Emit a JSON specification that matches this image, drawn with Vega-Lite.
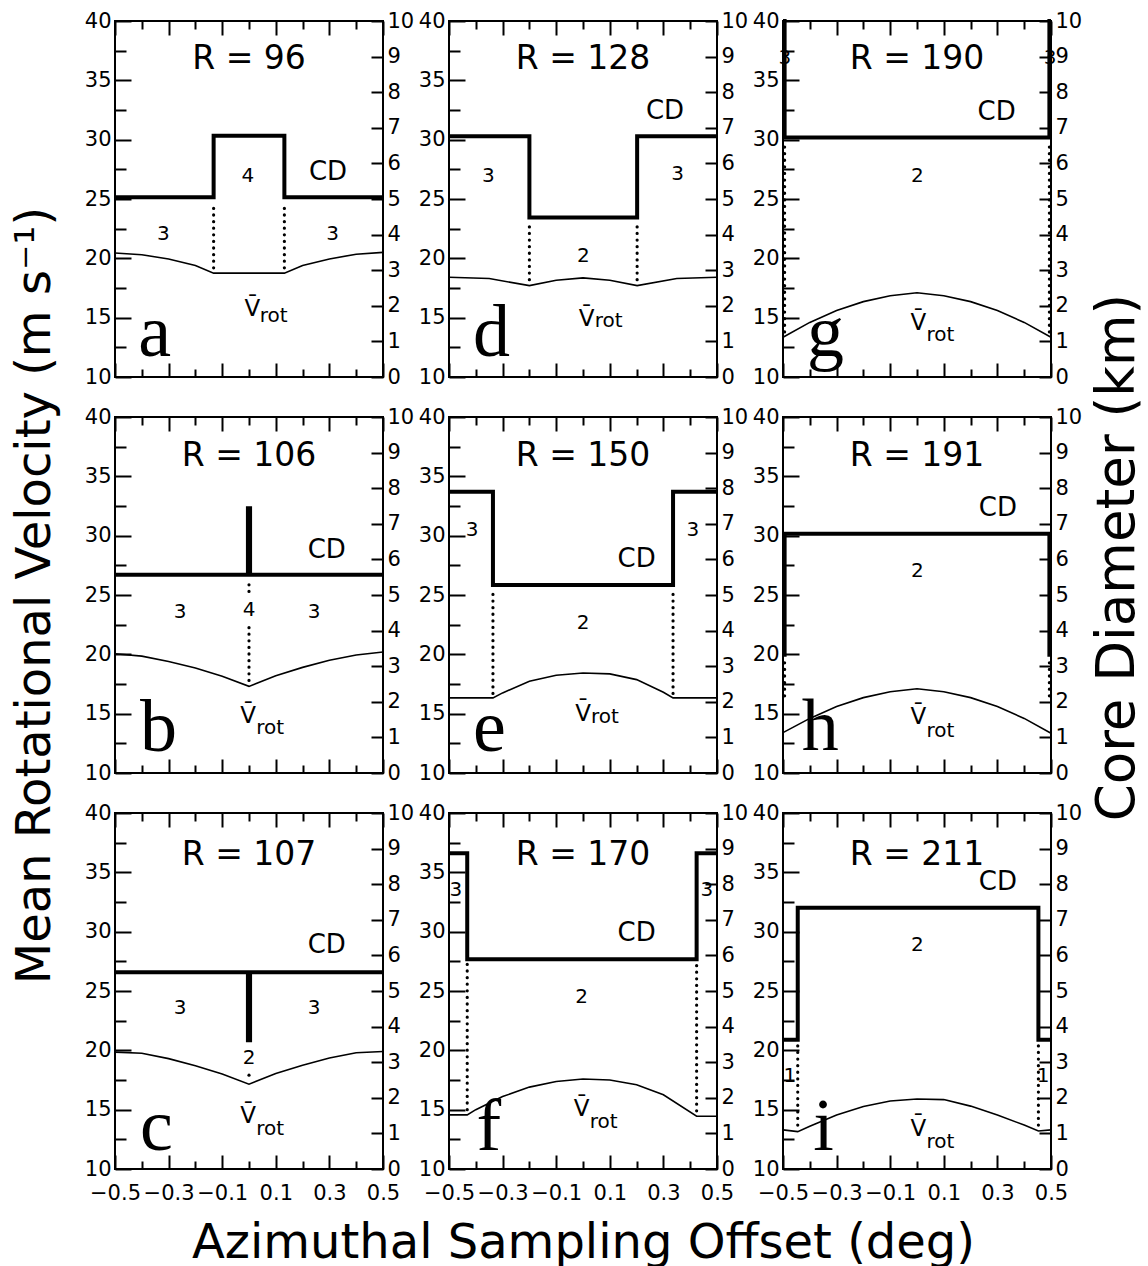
{
"$schema":"https://vega.github.io/schema/vega-lite/v6.json",
"background":"white",
"padding":{"left":10,"top":9,"right":5,"bottom":5},
"bounds":"flush","columns":3,"spacing":{"row":40,"column":66},
"config":{"view":{"stroke":"black","strokeWidth":2},
"axis":{"grid":false,"domain":false,"tickColor":"black","tickWidth":2,"labelColor":"black","labelFont":"DejaVu Sans","labelFontSize":21,"titleColor":"black","titleFont":"DejaVu Sans","titleFontWeight":"normal","titleFontSize":48},
"text":{"color":"black","font":"DejaVu Sans"}},
"datasets":{
"cd":[
{"p":"a","x":-0.5,"cd":5.05},{"p":"a","x":-0.132,"cd":6.78},{"p":"a","x":0.132,"cd":5.05},{"p":"a","x":0.5,"cd":5.05},
{"p":"b","x":-0.5,"cd":5.57},{"p":"b","x":-0.004,"cd":7.44},{"p":"b","x":0.004,"cd":5.57},{"p":"b","x":0.5,"cd":5.57},
{"p":"c","x":-0.5,"cd":5.53},{"p":"c","x":-0.004,"cd":3.62},{"p":"c","x":0.004,"cd":5.53},{"p":"c","x":0.5,"cd":5.53},
{"p":"d","x":-0.5,"cd":6.76},{"p":"d","x":-0.2,"cd":4.48},{"p":"d","x":0.202,"cd":6.76},{"p":"d","x":0.5,"cd":6.76},
{"p":"e","x":-0.5,"cd":7.9},{"p":"e","x":-0.336,"cd":5.28},{"p":"e","x":0.336,"cd":7.9},{"p":"e","x":0.5,"cd":7.9},
{"p":"f","x":-0.5,"cd":8.87},{"p":"f","x":-0.432,"cd":5.89},{"p":"f","x":0.424,"cd":8.87},{"p":"f","x":0.5,"cd":8.87},
{"p":"g","x":-0.5,"cd":10},{"p":"g","x":-0.494,"cd":6.73},{"p":"g","x":0.494,"cd":10},{"p":"g","x":0.5,"cd":10},
{"p":"h","x":-0.5,"cd":3.32},{"p":"h","x":-0.494,"cd":6.72},{"p":"h","x":0.494,"cd":3.32},{"p":"h","x":0.5,"cd":3.32},
{"p":"i","x":-0.5,"cd":3.63},{"p":"i","x":-0.445,"cd":7.34},{"p":"i","x":0.453,"cd":3.63},{"p":"i","x":0.5,"cd":3.63}
],
"vr":[
{"p":"a","x":-0.5,"v":20.45},{"p":"a","x":-0.4,"v":20.3},{"p":"a","x":-0.3,"v":19.95},{"p":"a","x":-0.2,"v":19.4},{"p":"a","x":-0.132,"v":18.75},{"p":"a","x":0.132,"v":18.75},{"p":"a","x":0.2,"v":19.4},{"p":"a","x":0.3,"v":19.95},{"p":"a","x":0.4,"v":20.35},{"p":"a","x":0.5,"v":20.5},
{"p":"b","x":-0.5,"v":20.05},{"p":"b","x":-0.4,"v":19.85},{"p":"b","x":-0.3,"v":19.4},{"p":"b","x":-0.2,"v":18.85},{"p":"b","x":-0.1,"v":18.15},{"p":"b","x":0,"v":17.3},{"p":"b","x":0.1,"v":18.2},{"p":"b","x":0.2,"v":18.9},{"p":"b","x":0.3,"v":19.5},{"p":"b","x":0.4,"v":19.95},{"p":"b","x":0.5,"v":20.2},
{"p":"c","x":-0.5,"v":19.85},{"p":"c","x":-0.4,"v":19.75},{"p":"c","x":-0.3,"v":19.3},{"p":"c","x":-0.2,"v":18.7},{"p":"c","x":-0.1,"v":18.0},{"p":"c","x":0,"v":17.15},{"p":"c","x":0.1,"v":18.05},{"p":"c","x":0.2,"v":18.75},{"p":"c","x":0.3,"v":19.35},{"p":"c","x":0.4,"v":19.8},{"p":"c","x":0.5,"v":19.9},
{"p":"d","x":-0.5,"v":18.4},{"p":"d","x":-0.35,"v":18.3},{"p":"d","x":-0.2,"v":17.7},{"p":"d","x":-0.1,"v":18.15},{"p":"d","x":0,"v":18.35},{"p":"d","x":0.1,"v":18.15},{"p":"d","x":0.202,"v":17.7},{"p":"d","x":0.35,"v":18.3},{"p":"d","x":0.5,"v":18.4},
{"p":"e","x":-0.5,"v":16.33},{"p":"e","x":-0.336,"v":16.33},{"p":"e","x":-0.3,"v":16.75},{"p":"e","x":-0.2,"v":17.73},{"p":"e","x":-0.1,"v":18.24},{"p":"e","x":0,"v":18.43},{"p":"e","x":0.1,"v":18.35},{"p":"e","x":0.2,"v":17.87},{"p":"e","x":0.3,"v":16.8},{"p":"e","x":0.336,"v":16.33},{"p":"e","x":0.5,"v":16.33},
{"p":"f","x":-0.5,"v":14.56},{"p":"f","x":-0.432,"v":14.56},{"p":"f","x":-0.4,"v":15.0},{"p":"f","x":-0.3,"v":16.1},{"p":"f","x":-0.2,"v":16.9},{"p":"f","x":-0.1,"v":17.37},{"p":"f","x":0,"v":17.58},{"p":"f","x":0.1,"v":17.5},{"p":"f","x":0.2,"v":17.1},{"p":"f","x":0.3,"v":16.25},{"p":"f","x":0.424,"v":14.45},{"p":"f","x":0.5,"v":14.45},
{"p":"g","x":-0.5,"v":13.35},{"p":"g","x":-0.4,"v":14.6},{"p":"g","x":-0.3,"v":15.6},{"p":"g","x":-0.2,"v":16.35},{"p":"g","x":-0.1,"v":16.85},{"p":"g","x":0,"v":17.1},{"p":"g","x":0.1,"v":16.85},{"p":"g","x":0.2,"v":16.35},{"p":"g","x":0.3,"v":15.6},{"p":"g","x":0.4,"v":14.6},{"p":"g","x":0.5,"v":13.35},
{"p":"h","x":-0.5,"v":13.4},{"p":"h","x":-0.4,"v":14.6},{"p":"h","x":-0.3,"v":15.6},{"p":"h","x":-0.2,"v":16.35},{"p":"h","x":-0.1,"v":16.85},{"p":"h","x":0,"v":17.1},{"p":"h","x":0.1,"v":16.85},{"p":"h","x":0.2,"v":16.35},{"p":"h","x":0.3,"v":15.6},{"p":"h","x":0.4,"v":14.6},{"p":"h","x":0.5,"v":13.35},
{"p":"i","x":-0.5,"v":13.3},{"p":"i","x":-0.445,"v":13.15},{"p":"i","x":-0.4,"v":13.6},{"p":"i","x":-0.3,"v":14.55},{"p":"i","x":-0.2,"v":15.27},{"p":"i","x":-0.1,"v":15.73},{"p":"i","x":0,"v":15.9},{"p":"i","x":0.1,"v":15.85},{"p":"i","x":0.2,"v":15.3},{"p":"i","x":0.3,"v":14.55},{"p":"i","x":0.4,"v":13.7},{"p":"i","x":0.453,"v":13.2},{"p":"i","x":0.5,"v":13.3}
],
"dot":[
{"p":"a","x":-0.132,"v1":19.2,"v2":24.6},{"p":"a","x":0.132,"v1":19.2,"v2":24.6},
{"p":"b","x":0,"v1":17.8,"v2":22.4},{"p":"b","x":0,"v1":25.3,"v2":26.3},
{"p":"c","x":0,"v1":17.9,"v2":17.95},
{"p":"d","x":-0.2,"v1":18.2,"v2":22.9},{"p":"d","x":0.202,"v1":18.2,"v2":22.9},
{"p":"e","x":-0.336,"v1":16.7,"v2":25.5},{"p":"e","x":0.336,"v1":16.7,"v2":25.5},
{"p":"f","x":-0.432,"v1":15.0,"v2":27.3},{"p":"f","x":0.424,"v1":14.9,"v2":27.3},
{"p":"g","x":-0.494,"v1":13.8,"v2":29.7},{"p":"g","x":0.494,"v1":13.8,"v2":29.7},
{"p":"h","x":-0.494,"v1":16.5,"v2":19.7},{"p":"h","x":0.494,"v1":16.5,"v2":19.7},
{"p":"i","x":-0.445,"v1":13.7,"v2":20.6},{"p":"i","x":0.453,"v1":13.7,"v2":20.6}
],
"txt":[
{"p":"a","k":"R","x":0,"v":36.8,"t":"R = 96"},{"p":"a","k":"CD","x":0.295,"v":27.3,"t":"CD"},{"p":"a","k":"n","x":-0.004,"v":26.96,"t":"4"},{"p":"a","k":"n","x":-0.32,"v":22.05,"t":"3"},{"p":"a","k":"n","x":0.312,"v":22.05,"t":"3"},{"p":"a","k":"V","x":0.013,"v":15.75,"t":"V\u0304"},{"p":"a","k":"rot","x":0.04,"v":15.16,"t":"rot"},{"p":"a","k":"L","x":-0.413,"v":11.8,"t":"a"},
{"p":"b","k":"R","x":0,"v":36.7,"t":"R = 106"},{"p":"b","k":"CD","x":0.29,"v":28.8,"t":"CD"},{"p":"b","k":"n","x":0,"v":23.77,"t":"4"},{"p":"b","k":"n","x":-0.257,"v":23.6,"t":"3"},{"p":"b","k":"n","x":0.243,"v":23.6,"t":"3"},{"p":"b","k":"V","x":-0.003,"v":14.8,"t":"V\u0304"},{"p":"b","k":"rot","x":0.027,"v":13.8,"t":"rot"},{"p":"b","k":"L","x":-0.407,"v":11.85,"t":"b"},
{"p":"c","k":"R","x":0,"v":36.46,"t":"R = 107"},{"p":"c","k":"CD","x":0.29,"v":28.9,"t":"CD"},{"p":"c","k":"n","x":0,"v":19.33,"t":"2"},{"p":"c","k":"n","x":-0.257,"v":23.55,"t":"3"},{"p":"c","k":"n","x":0.243,"v":23.55,"t":"3"},{"p":"c","k":"V","x":-0.003,"v":14.45,"t":"V\u0304"},{"p":"c","k":"rot","x":0.027,"v":13.37,"t":"rot"},{"p":"c","k":"L","x":-0.407,"v":11.6,"t":"c"},
{"p":"d","k":"R","x":0,"v":36.8,"t":"R = 128"},{"p":"d","k":"CD","x":0.306,"v":32.4,"t":"CD"},{"p":"d","k":"n","x":-0.353,"v":26.96,"t":"3"},{"p":"d","k":"n","x":0.353,"v":27.1,"t":"3"},{"p":"d","k":"n","x":0.001,"v":20.2,"t":"2"},{"p":"d","k":"V","x":0.0135,"v":14.9,"t":"V\u0304"},{"p":"d","k":"rot","x":0.044,"v":14.74,"t":"rot"},{"p":"d","k":"L","x":-0.41,"v":11.8,"t":"d"},
{"p":"e","k":"R","x":0,"v":36.7,"t":"R = 150"},{"p":"e","k":"CD","x":0.2,"v":28.0,"t":"CD"},{"p":"e","k":"n","x":-0.414,"v":30.5,"t":"3"},{"p":"e","k":"n","x":0.41,"v":30.5,"t":"3"},{"p":"e","k":"n","x":0,"v":22.6,"t":"2"},{"p":"e","k":"V","x":0,"v":15.0,"t":"V\u0304"},{"p":"e","k":"rot","x":0.03,"v":14.72,"t":"rot"},{"p":"e","k":"L","x":-0.41,"v":11.83,"t":"e"},
{"p":"f","k":"R","x":0,"v":36.46,"t":"R = 170"},{"p":"f","k":"CD","x":0.2,"v":29.87,"t":"CD"},{"p":"f","k":"n","x":-0.474,"v":33.5,"t":"3"},{"p":"f","k":"n","x":0.462,"v":33.5,"t":"3"},{"p":"f","k":"n","x":-0.005,"v":24.52,"t":"2"},{"p":"f","k":"V","x":-0.005,"v":15.05,"t":"V\u0304"},{"p":"f","k":"rot","x":0.025,"v":14.0,"t":"rot"},{"p":"f","k":"L","x":-0.397,"v":11.6,"t":"f"},
{"p":"g","k":"R","x":0,"v":36.8,"t":"R = 190"},{"p":"g","k":"CD","x":0.297,"v":32.3,"t":"CD"},{"p":"g","k":"n","x":-0.493,"v":36.9,"t":"3"},{"p":"g","k":"n","x":0.497,"v":36.9,"t":"3"},{"p":"g","k":"n","x":0.001,"v":26.96,"t":"2"},{"p":"g","k":"V","x":0.005,"v":14.55,"t":"V\u0304"},{"p":"g","k":"rot","x":0.035,"v":13.56,"t":"rot"},{"p":"g","k":"L","x":-0.41,"v":11.8,"t":"g"},
{"p":"h","k":"R","x":0,"v":36.7,"t":"R = 191"},{"p":"h","k":"CD","x":0.302,"v":32.33,"t":"CD"},{"p":"h","k":"n","x":0.001,"v":27.0,"t":"2"},{"p":"h","k":"V","x":0.005,"v":14.7,"t":"V\u0304"},{"p":"h","k":"rot","x":0.035,"v":13.5,"t":"rot"},{"p":"h","k":"L","x":-0.43,"v":11.96,"t":"h"},
{"p":"i","k":"R","x":0,"v":36.46,"t":"R = 211"},{"p":"i","k":"CD","x":0.302,"v":34.2,"t":"CD"},{"p":"i","k":"n","x":0.001,"v":28.88,"t":"2"},{"p":"i","k":"n","x":-0.474,"v":17.8,"t":"1"},{"p":"i","k":"n","x":0.471,"v":17.8,"t":"1"},{"p":"i","k":"V","x":0.005,"v":13.4,"t":"V\u0304"},{"p":"i","k":"rot","x":0.035,"v":12.3,"t":"rot"},{"p":"i","k":"L","x":-0.387,"v":11.6,"t":"i"}
]
},
"concat":[
{"width":268,"height":356,"resolve":{"scale":{"x":"independent","y":"independent"},"axis":{"x":"independent","y":"independent"}},"layer":[
{"data":{"name":"cd"},"transform":[{"filter":"datum.p=='a'"}],"mark":{"type":"line","interpolate":"step-after","strokeWidth":4,"color":"black"},"encoding":{"x":{"field":"x","type":"quantitative","scale":{"domain":[-0.5,0.5],"nice":false},"axis":{"orient":"bottom","values":[-0.5,-0.3,-0.1,0.1,0.3,0.5],"tickSize":-14,"labels":false,"title":null}},"y":{"field":"cd","type":"quantitative","scale":{"domain":[0,10],"nice":false},"axis":{"orient":"right","values":[0,1,2,3,4,5,6,7,8,9,10],"tickSize":-12,"labelPadding":16,"labelOverlap":false,"labelFlush":false,"title":null}}}},
{"data":{"name":"vr"},"transform":[{"filter":"datum.p=='a'"}],"mark":{"type":"line","strokeWidth":1.6,"color":"black"},"encoding":{"x":{"field":"x","type":"quantitative","scale":{"domain":[-0.5,0.5],"nice":false},"axis":{"orient":"top","values":[-0.5,-0.3,-0.1,0.1,0.3,0.5],"tickSize":-14,"labels":false,"title":null}},"y":{"field":"v","type":"quantitative","scale":{"domain":[10,40],"nice":false},"axis":{"orient":"left","values":[10,15,20,25,30,35,40],"tickSize":-16,"labelPadding":20,"labelOverlap":false,"labelFlush":false,"title":null}}}},
{"data":{"name":"dot"},"transform":[{"filter":"datum.p=='a'"}],"mark":{"type":"rule","strokeWidth":3.2,"strokeDash":[0.1,6.5],"strokeCap":"round","color":"black"},"encoding":{"x":{"field":"x","type":"quantitative","scale":{"domain":[-0.5,0.5],"nice":false},"axis":{"orient":"bottom","values":[-0.4,-0.2,0,0.2,0.4],"tickSize":-8,"labels":false,"title":null}},"y":{"field":"v1","type":"quantitative","scale":{"domain":[10,40],"nice":false},"axis":{"orient":"left","values":[12.5,17.5,22.5,27.5,32.5,37.5],"tickSize":-11,"labels":false,"title":null}},"y2":{"field":"v2"}}},
{"data":{"name":"txt"},"transform":[{"filter":"datum.p=='a'&&datum.k=='R'"}],"mark":{"type":"text","fontSize":33},"encoding":{"x":{"field":"x","type":"quantitative","scale":{"domain":[-0.5,0.5],"nice":false},"axis":{"orient":"top","values":[-0.4,-0.2,0,0.2,0.4],"tickSize":-8,"labels":false,"title":null}},"y":{"field":"v","type":"quantitative","scale":{"domain":[10,40],"nice":false},"axis":null},"text":{"field":"t"}}},
{"data":{"name":"txt"},"transform":[{"filter":"datum.p=='a'&&datum.k=='CD'"}],"mark":{"type":"text","fontSize":26},"encoding":{"x":{"field":"x","type":"quantitative","scale":{"domain":[-0.5,0.5],"nice":false},"axis":null},"y":{"field":"v","type":"quantitative","scale":{"domain":[10,40],"nice":false},"axis":null},"text":{"field":"t"}}},
{"data":{"name":"txt"},"transform":[{"filter":"datum.p=='a'&&datum.k=='n'"}],"mark":{"type":"text","fontSize":20},"encoding":{"x":{"field":"x","type":"quantitative","scale":{"domain":[-0.5,0.5],"nice":false},"axis":null},"y":{"field":"v","type":"quantitative","scale":{"domain":[10,40],"nice":false},"axis":null},"text":{"field":"t"}}},
{"data":{"name":"txt"},"transform":[{"filter":"datum.p=='a'&&datum.k=='V'"}],"mark":{"type":"text","fontSize":23},"encoding":{"x":{"field":"x","type":"quantitative","scale":{"domain":[-0.5,0.5],"nice":false},"axis":null},"y":{"field":"v","type":"quantitative","scale":{"domain":[10,40],"nice":false},"axis":null},"text":{"field":"t"}}},
{"data":{"name":"txt"},"transform":[{"filter":"datum.p=='a'&&datum.k=='rot'"}],"mark":{"type":"text","fontSize":20,"align":"left"},"encoding":{"x":{"field":"x","type":"quantitative","scale":{"domain":[-0.5,0.5],"nice":false},"axis":null},"y":{"field":"v","type":"quantitative","scale":{"domain":[10,40],"nice":false},"axis":null},"text":{"field":"t"}}},
{"data":{"name":"txt"},"transform":[{"filter":"datum.p=='a'&&datum.k=='L'"}],"mark":{"type":"text","fontSize":74,"font":"Liberation Serif","align":"left","baseline":"alphabetic"},"encoding":{"x":{"field":"x","type":"quantitative","scale":{"domain":[-0.5,0.5],"nice":false},"axis":null},"y":{"field":"v","type":"quantitative","scale":{"domain":[10,40],"nice":false},"axis":null},"text":{"field":"t"}}}
]},
{"width":268,"height":356,"resolve":{"scale":{"x":"independent","y":"independent"},"axis":{"x":"independent","y":"independent"}},"layer":[
{"data":{"name":"cd"},"transform":[{"filter":"datum.p=='d'"}],"mark":{"type":"line","interpolate":"step-after","strokeWidth":4,"color":"black"},"encoding":{"x":{"field":"x","type":"quantitative","scale":{"domain":[-0.5,0.5],"nice":false},"axis":{"orient":"bottom","values":[-0.5,-0.3,-0.1,0.1,0.3,0.5],"tickSize":-14,"labels":false,"title":null}},"y":{"field":"cd","type":"quantitative","scale":{"domain":[0,10],"nice":false},"axis":{"orient":"right","values":[0,1,2,3,4,5,6,7,8,9,10],"tickSize":-12,"labelPadding":16,"labelOverlap":false,"labelFlush":false,"title":null}}}},
{"data":{"name":"vr"},"transform":[{"filter":"datum.p=='d'"}],"mark":{"type":"line","strokeWidth":1.6,"color":"black"},"encoding":{"x":{"field":"x","type":"quantitative","scale":{"domain":[-0.5,0.5],"nice":false},"axis":{"orient":"top","values":[-0.5,-0.3,-0.1,0.1,0.3,0.5],"tickSize":-14,"labels":false,"title":null}},"y":{"field":"v","type":"quantitative","scale":{"domain":[10,40],"nice":false},"axis":{"orient":"left","values":[10,15,20,25,30,35,40],"tickSize":-16,"labelPadding":20,"labelOverlap":false,"labelFlush":false,"title":null}}}},
{"data":{"name":"dot"},"transform":[{"filter":"datum.p=='d'"}],"mark":{"type":"rule","strokeWidth":3.2,"strokeDash":[0.1,6.5],"strokeCap":"round","color":"black"},"encoding":{"x":{"field":"x","type":"quantitative","scale":{"domain":[-0.5,0.5],"nice":false},"axis":{"orient":"bottom","values":[-0.4,-0.2,0,0.2,0.4],"tickSize":-8,"labels":false,"title":null}},"y":{"field":"v1","type":"quantitative","scale":{"domain":[10,40],"nice":false},"axis":{"orient":"left","values":[12.5,17.5,22.5,27.5,32.5,37.5],"tickSize":-11,"labels":false,"title":null}},"y2":{"field":"v2"}}},
{"data":{"name":"txt"},"transform":[{"filter":"datum.p=='d'&&datum.k=='R'"}],"mark":{"type":"text","fontSize":33},"encoding":{"x":{"field":"x","type":"quantitative","scale":{"domain":[-0.5,0.5],"nice":false},"axis":{"orient":"top","values":[-0.4,-0.2,0,0.2,0.4],"tickSize":-8,"labels":false,"title":null}},"y":{"field":"v","type":"quantitative","scale":{"domain":[10,40],"nice":false},"axis":null},"text":{"field":"t"}}},
{"data":{"name":"txt"},"transform":[{"filter":"datum.p=='d'&&datum.k=='CD'"}],"mark":{"type":"text","fontSize":26},"encoding":{"x":{"field":"x","type":"quantitative","scale":{"domain":[-0.5,0.5],"nice":false},"axis":null},"y":{"field":"v","type":"quantitative","scale":{"domain":[10,40],"nice":false},"axis":null},"text":{"field":"t"}}},
{"data":{"name":"txt"},"transform":[{"filter":"datum.p=='d'&&datum.k=='n'"}],"mark":{"type":"text","fontSize":20},"encoding":{"x":{"field":"x","type":"quantitative","scale":{"domain":[-0.5,0.5],"nice":false},"axis":null},"y":{"field":"v","type":"quantitative","scale":{"domain":[10,40],"nice":false},"axis":null},"text":{"field":"t"}}},
{"data":{"name":"txt"},"transform":[{"filter":"datum.p=='d'&&datum.k=='V'"}],"mark":{"type":"text","fontSize":23},"encoding":{"x":{"field":"x","type":"quantitative","scale":{"domain":[-0.5,0.5],"nice":false},"axis":null},"y":{"field":"v","type":"quantitative","scale":{"domain":[10,40],"nice":false},"axis":null},"text":{"field":"t"}}},
{"data":{"name":"txt"},"transform":[{"filter":"datum.p=='d'&&datum.k=='rot'"}],"mark":{"type":"text","fontSize":20,"align":"left"},"encoding":{"x":{"field":"x","type":"quantitative","scale":{"domain":[-0.5,0.5],"nice":false},"axis":null},"y":{"field":"v","type":"quantitative","scale":{"domain":[10,40],"nice":false},"axis":null},"text":{"field":"t"}}},
{"data":{"name":"txt"},"transform":[{"filter":"datum.p=='d'&&datum.k=='L'"}],"mark":{"type":"text","fontSize":74,"font":"Liberation Serif","align":"left","baseline":"alphabetic"},"encoding":{"x":{"field":"x","type":"quantitative","scale":{"domain":[-0.5,0.5],"nice":false},"axis":null},"y":{"field":"v","type":"quantitative","scale":{"domain":[10,40],"nice":false},"axis":null},"text":{"field":"t"}}}
]},
{"width":268,"height":356,"resolve":{"scale":{"x":"independent","y":"independent"},"axis":{"x":"independent","y":"independent"}},"layer":[
{"data":{"name":"cd"},"transform":[{"filter":"datum.p=='g'"}],"mark":{"type":"line","interpolate":"step-after","strokeWidth":4,"color":"black"},"encoding":{"x":{"field":"x","type":"quantitative","scale":{"domain":[-0.5,0.5],"nice":false},"axis":{"orient":"bottom","values":[-0.5,-0.3,-0.1,0.1,0.3,0.5],"tickSize":-14,"labels":false,"title":null}},"y":{"field":"cd","type":"quantitative","scale":{"domain":[0,10],"nice":false},"axis":{"orient":"right","values":[0,1,2,3,4,5,6,7,8,9,10],"tickSize":-12,"labelPadding":16,"labelOverlap":false,"labelFlush":false,"title":null}}}},
{"data":{"name":"vr"},"transform":[{"filter":"datum.p=='g'"}],"mark":{"type":"line","strokeWidth":1.6,"color":"black"},"encoding":{"x":{"field":"x","type":"quantitative","scale":{"domain":[-0.5,0.5],"nice":false},"axis":{"orient":"top","values":[-0.5,-0.3,-0.1,0.1,0.3,0.5],"tickSize":-14,"labels":false,"title":null}},"y":{"field":"v","type":"quantitative","scale":{"domain":[10,40],"nice":false},"axis":{"orient":"left","values":[10,15,20,25,30,35,40],"tickSize":-16,"labelPadding":20,"labelOverlap":false,"labelFlush":false,"title":null}}}},
{"data":{"name":"dot"},"transform":[{"filter":"datum.p=='g'"}],"mark":{"type":"rule","strokeWidth":3.2,"strokeDash":[0.1,6.5],"strokeCap":"round","color":"black"},"encoding":{"x":{"field":"x","type":"quantitative","scale":{"domain":[-0.5,0.5],"nice":false},"axis":{"orient":"bottom","values":[-0.4,-0.2,0,0.2,0.4],"tickSize":-8,"labels":false,"title":null}},"y":{"field":"v1","type":"quantitative","scale":{"domain":[10,40],"nice":false},"axis":{"orient":"left","values":[12.5,17.5,22.5,27.5,32.5,37.5],"tickSize":-11,"labels":false,"title":null}},"y2":{"field":"v2"}}},
{"data":{"name":"txt"},"transform":[{"filter":"datum.p=='g'&&datum.k=='R'"}],"mark":{"type":"text","fontSize":33},"encoding":{"x":{"field":"x","type":"quantitative","scale":{"domain":[-0.5,0.5],"nice":false},"axis":{"orient":"top","values":[-0.4,-0.2,0,0.2,0.4],"tickSize":-8,"labels":false,"title":null}},"y":{"field":"v","type":"quantitative","scale":{"domain":[10,40],"nice":false},"axis":null},"text":{"field":"t"}}},
{"data":{"name":"txt"},"transform":[{"filter":"datum.p=='g'&&datum.k=='CD'"}],"mark":{"type":"text","fontSize":26},"encoding":{"x":{"field":"x","type":"quantitative","scale":{"domain":[-0.5,0.5],"nice":false},"axis":null},"y":{"field":"v","type":"quantitative","scale":{"domain":[10,40],"nice":false},"axis":null},"text":{"field":"t"}}},
{"data":{"name":"txt"},"transform":[{"filter":"datum.p=='g'&&datum.k=='n'"}],"mark":{"type":"text","fontSize":20},"encoding":{"x":{"field":"x","type":"quantitative","scale":{"domain":[-0.5,0.5],"nice":false},"axis":null},"y":{"field":"v","type":"quantitative","scale":{"domain":[10,40],"nice":false},"axis":null},"text":{"field":"t"}}},
{"data":{"name":"txt"},"transform":[{"filter":"datum.p=='g'&&datum.k=='V'"}],"mark":{"type":"text","fontSize":23},"encoding":{"x":{"field":"x","type":"quantitative","scale":{"domain":[-0.5,0.5],"nice":false},"axis":null},"y":{"field":"v","type":"quantitative","scale":{"domain":[10,40],"nice":false},"axis":null},"text":{"field":"t"}}},
{"data":{"name":"txt"},"transform":[{"filter":"datum.p=='g'&&datum.k=='rot'"}],"mark":{"type":"text","fontSize":20,"align":"left"},"encoding":{"x":{"field":"x","type":"quantitative","scale":{"domain":[-0.5,0.5],"nice":false},"axis":null},"y":{"field":"v","type":"quantitative","scale":{"domain":[10,40],"nice":false},"axis":null},"text":{"field":"t"}}},
{"data":{"name":"txt"},"transform":[{"filter":"datum.p=='g'&&datum.k=='L'"}],"mark":{"type":"text","fontSize":74,"font":"Liberation Serif","align":"left","baseline":"alphabetic"},"encoding":{"x":{"field":"x","type":"quantitative","scale":{"domain":[-0.5,0.5],"nice":false},"axis":null},"y":{"field":"v","type":"quantitative","scale":{"domain":[10,40],"nice":false},"axis":null},"text":{"field":"t"}}}
]},
{"width":268,"height":356,"resolve":{"scale":{"x":"independent","y":"independent"},"axis":{"x":"independent","y":"independent"}},"layer":[
{"data":{"name":"cd"},"transform":[{"filter":"datum.p=='b'"}],"mark":{"type":"line","interpolate":"step-after","strokeWidth":4,"color":"black"},"encoding":{"x":{"field":"x","type":"quantitative","scale":{"domain":[-0.5,0.5],"nice":false},"axis":{"orient":"bottom","values":[-0.5,-0.3,-0.1,0.1,0.3,0.5],"tickSize":-14,"labels":false,"title":null}},"y":{"field":"cd","type":"quantitative","scale":{"domain":[0,10],"nice":false},"axis":{"orient":"right","values":[0,1,2,3,4,5,6,7,8,9,10],"tickSize":-12,"labelPadding":16,"labelOverlap":false,"labelFlush":false,"title":null}}}},
{"data":{"name":"vr"},"transform":[{"filter":"datum.p=='b'"}],"mark":{"type":"line","strokeWidth":1.6,"color":"black"},"encoding":{"x":{"field":"x","type":"quantitative","scale":{"domain":[-0.5,0.5],"nice":false},"axis":{"orient":"top","values":[-0.5,-0.3,-0.1,0.1,0.3,0.5],"tickSize":-14,"labels":false,"title":null}},"y":{"field":"v","type":"quantitative","scale":{"domain":[10,40],"nice":false},"axis":{"orient":"left","values":[10,15,20,25,30,35,40],"tickSize":-16,"labelPadding":20,"labelOverlap":false,"labelFlush":false,"title":"Mean Rotational Velocity (m s⁻¹)","titlePadding":25}}}},
{"data":{"name":"dot"},"transform":[{"filter":"datum.p=='b'"}],"mark":{"type":"rule","strokeWidth":3.2,"strokeDash":[0.1,6.5],"strokeCap":"round","color":"black"},"encoding":{"x":{"field":"x","type":"quantitative","scale":{"domain":[-0.5,0.5],"nice":false},"axis":{"orient":"bottom","values":[-0.4,-0.2,0,0.2,0.4],"tickSize":-8,"labels":false,"title":null}},"y":{"field":"v1","type":"quantitative","scale":{"domain":[10,40],"nice":false},"axis":{"orient":"left","values":[12.5,17.5,22.5,27.5,32.5,37.5],"tickSize":-11,"labels":false,"title":null}},"y2":{"field":"v2"}}},
{"data":{"name":"txt"},"transform":[{"filter":"datum.p=='b'&&datum.k=='R'"}],"mark":{"type":"text","fontSize":33},"encoding":{"x":{"field":"x","type":"quantitative","scale":{"domain":[-0.5,0.5],"nice":false},"axis":{"orient":"top","values":[-0.4,-0.2,0,0.2,0.4],"tickSize":-8,"labels":false,"title":null}},"y":{"field":"v","type":"quantitative","scale":{"domain":[10,40],"nice":false},"axis":null},"text":{"field":"t"}}},
{"data":{"name":"txt"},"transform":[{"filter":"datum.p=='b'&&datum.k=='CD'"}],"mark":{"type":"text","fontSize":26},"encoding":{"x":{"field":"x","type":"quantitative","scale":{"domain":[-0.5,0.5],"nice":false},"axis":null},"y":{"field":"v","type":"quantitative","scale":{"domain":[10,40],"nice":false},"axis":null},"text":{"field":"t"}}},
{"data":{"name":"txt"},"transform":[{"filter":"datum.p=='b'&&datum.k=='n'"}],"mark":{"type":"text","fontSize":20},"encoding":{"x":{"field":"x","type":"quantitative","scale":{"domain":[-0.5,0.5],"nice":false},"axis":null},"y":{"field":"v","type":"quantitative","scale":{"domain":[10,40],"nice":false},"axis":null},"text":{"field":"t"}}},
{"data":{"name":"txt"},"transform":[{"filter":"datum.p=='b'&&datum.k=='V'"}],"mark":{"type":"text","fontSize":23},"encoding":{"x":{"field":"x","type":"quantitative","scale":{"domain":[-0.5,0.5],"nice":false},"axis":null},"y":{"field":"v","type":"quantitative","scale":{"domain":[10,40],"nice":false},"axis":null},"text":{"field":"t"}}},
{"data":{"name":"txt"},"transform":[{"filter":"datum.p=='b'&&datum.k=='rot'"}],"mark":{"type":"text","fontSize":20,"align":"left"},"encoding":{"x":{"field":"x","type":"quantitative","scale":{"domain":[-0.5,0.5],"nice":false},"axis":null},"y":{"field":"v","type":"quantitative","scale":{"domain":[10,40],"nice":false},"axis":null},"text":{"field":"t"}}},
{"data":{"name":"txt"},"transform":[{"filter":"datum.p=='b'&&datum.k=='L'"}],"mark":{"type":"text","fontSize":74,"font":"Liberation Serif","align":"left","baseline":"alphabetic"},"encoding":{"x":{"field":"x","type":"quantitative","scale":{"domain":[-0.5,0.5],"nice":false},"axis":null},"y":{"field":"v","type":"quantitative","scale":{"domain":[10,40],"nice":false},"axis":null},"text":{"field":"t"}}}
]},
{"width":268,"height":356,"resolve":{"scale":{"x":"independent","y":"independent"},"axis":{"x":"independent","y":"independent"}},"layer":[
{"data":{"name":"cd"},"transform":[{"filter":"datum.p=='e'"}],"mark":{"type":"line","interpolate":"step-after","strokeWidth":4,"color":"black"},"encoding":{"x":{"field":"x","type":"quantitative","scale":{"domain":[-0.5,0.5],"nice":false},"axis":{"orient":"bottom","values":[-0.5,-0.3,-0.1,0.1,0.3,0.5],"tickSize":-14,"labels":false,"title":null}},"y":{"field":"cd","type":"quantitative","scale":{"domain":[0,10],"nice":false},"axis":{"orient":"right","values":[0,1,2,3,4,5,6,7,8,9,10],"tickSize":-12,"labelPadding":16,"labelOverlap":false,"labelFlush":false,"title":null}}}},
{"data":{"name":"vr"},"transform":[{"filter":"datum.p=='e'"}],"mark":{"type":"line","strokeWidth":1.6,"color":"black"},"encoding":{"x":{"field":"x","type":"quantitative","scale":{"domain":[-0.5,0.5],"nice":false},"axis":{"orient":"top","values":[-0.5,-0.3,-0.1,0.1,0.3,0.5],"tickSize":-14,"labels":false,"title":null}},"y":{"field":"v","type":"quantitative","scale":{"domain":[10,40],"nice":false},"axis":{"orient":"left","values":[10,15,20,25,30,35,40],"tickSize":-16,"labelPadding":20,"labelOverlap":false,"labelFlush":false,"title":null}}}},
{"data":{"name":"dot"},"transform":[{"filter":"datum.p=='e'"}],"mark":{"type":"rule","strokeWidth":3.2,"strokeDash":[0.1,6.5],"strokeCap":"round","color":"black"},"encoding":{"x":{"field":"x","type":"quantitative","scale":{"domain":[-0.5,0.5],"nice":false},"axis":{"orient":"bottom","values":[-0.4,-0.2,0,0.2,0.4],"tickSize":-8,"labels":false,"title":null}},"y":{"field":"v1","type":"quantitative","scale":{"domain":[10,40],"nice":false},"axis":{"orient":"left","values":[12.5,17.5,22.5,27.5,32.5,37.5],"tickSize":-11,"labels":false,"title":null}},"y2":{"field":"v2"}}},
{"data":{"name":"txt"},"transform":[{"filter":"datum.p=='e'&&datum.k=='R'"}],"mark":{"type":"text","fontSize":33},"encoding":{"x":{"field":"x","type":"quantitative","scale":{"domain":[-0.5,0.5],"nice":false},"axis":{"orient":"top","values":[-0.4,-0.2,0,0.2,0.4],"tickSize":-8,"labels":false,"title":null}},"y":{"field":"v","type":"quantitative","scale":{"domain":[10,40],"nice":false},"axis":null},"text":{"field":"t"}}},
{"data":{"name":"txt"},"transform":[{"filter":"datum.p=='e'&&datum.k=='CD'"}],"mark":{"type":"text","fontSize":26},"encoding":{"x":{"field":"x","type":"quantitative","scale":{"domain":[-0.5,0.5],"nice":false},"axis":null},"y":{"field":"v","type":"quantitative","scale":{"domain":[10,40],"nice":false},"axis":null},"text":{"field":"t"}}},
{"data":{"name":"txt"},"transform":[{"filter":"datum.p=='e'&&datum.k=='n'"}],"mark":{"type":"text","fontSize":20},"encoding":{"x":{"field":"x","type":"quantitative","scale":{"domain":[-0.5,0.5],"nice":false},"axis":null},"y":{"field":"v","type":"quantitative","scale":{"domain":[10,40],"nice":false},"axis":null},"text":{"field":"t"}}},
{"data":{"name":"txt"},"transform":[{"filter":"datum.p=='e'&&datum.k=='V'"}],"mark":{"type":"text","fontSize":23},"encoding":{"x":{"field":"x","type":"quantitative","scale":{"domain":[-0.5,0.5],"nice":false},"axis":null},"y":{"field":"v","type":"quantitative","scale":{"domain":[10,40],"nice":false},"axis":null},"text":{"field":"t"}}},
{"data":{"name":"txt"},"transform":[{"filter":"datum.p=='e'&&datum.k=='rot'"}],"mark":{"type":"text","fontSize":20,"align":"left"},"encoding":{"x":{"field":"x","type":"quantitative","scale":{"domain":[-0.5,0.5],"nice":false},"axis":null},"y":{"field":"v","type":"quantitative","scale":{"domain":[10,40],"nice":false},"axis":null},"text":{"field":"t"}}},
{"data":{"name":"txt"},"transform":[{"filter":"datum.p=='e'&&datum.k=='L'"}],"mark":{"type":"text","fontSize":74,"font":"Liberation Serif","align":"left","baseline":"alphabetic"},"encoding":{"x":{"field":"x","type":"quantitative","scale":{"domain":[-0.5,0.5],"nice":false},"axis":null},"y":{"field":"v","type":"quantitative","scale":{"domain":[10,40],"nice":false},"axis":null},"text":{"field":"t"}}}
]},
{"width":268,"height":356,"resolve":{"scale":{"x":"independent","y":"independent"},"axis":{"x":"independent","y":"independent"}},"layer":[
{"data":{"name":"cd"},"transform":[{"filter":"datum.p=='h'"}],"mark":{"type":"line","interpolate":"step-after","strokeWidth":4,"color":"black"},"encoding":{"x":{"field":"x","type":"quantitative","scale":{"domain":[-0.5,0.5],"nice":false},"axis":{"orient":"bottom","values":[-0.5,-0.3,-0.1,0.1,0.3,0.5],"tickSize":-14,"labels":false,"title":null}},"y":{"field":"cd","type":"quantitative","scale":{"domain":[0,10],"nice":false},"axis":{"orient":"right","values":[0,1,2,3,4,5,6,7,8,9,10],"tickSize":-12,"labelPadding":16,"labelOverlap":false,"labelFlush":false,"title":"Core Diameter (km)","titleAngle":270,"titleBaseline":"top","titlePadding":10,"titleFontSize":53,"titleY":140}}}},
{"data":{"name":"vr"},"transform":[{"filter":"datum.p=='h'"}],"mark":{"type":"line","strokeWidth":1.6,"color":"black"},"encoding":{"x":{"field":"x","type":"quantitative","scale":{"domain":[-0.5,0.5],"nice":false},"axis":{"orient":"top","values":[-0.5,-0.3,-0.1,0.1,0.3,0.5],"tickSize":-14,"labels":false,"title":null}},"y":{"field":"v","type":"quantitative","scale":{"domain":[10,40],"nice":false},"axis":{"orient":"left","values":[10,15,20,25,30,35,40],"tickSize":-16,"labelPadding":20,"labelOverlap":false,"labelFlush":false,"title":null}}}},
{"data":{"name":"dot"},"transform":[{"filter":"datum.p=='h'"}],"mark":{"type":"rule","strokeWidth":3.2,"strokeDash":[0.1,6.5],"strokeCap":"round","color":"black"},"encoding":{"x":{"field":"x","type":"quantitative","scale":{"domain":[-0.5,0.5],"nice":false},"axis":{"orient":"bottom","values":[-0.4,-0.2,0,0.2,0.4],"tickSize":-8,"labels":false,"title":null}},"y":{"field":"v1","type":"quantitative","scale":{"domain":[10,40],"nice":false},"axis":{"orient":"left","values":[12.5,17.5,22.5,27.5,32.5,37.5],"tickSize":-11,"labels":false,"title":null}},"y2":{"field":"v2"}}},
{"data":{"name":"txt"},"transform":[{"filter":"datum.p=='h'&&datum.k=='R'"}],"mark":{"type":"text","fontSize":33},"encoding":{"x":{"field":"x","type":"quantitative","scale":{"domain":[-0.5,0.5],"nice":false},"axis":{"orient":"top","values":[-0.4,-0.2,0,0.2,0.4],"tickSize":-8,"labels":false,"title":null}},"y":{"field":"v","type":"quantitative","scale":{"domain":[10,40],"nice":false},"axis":null},"text":{"field":"t"}}},
{"data":{"name":"txt"},"transform":[{"filter":"datum.p=='h'&&datum.k=='CD'"}],"mark":{"type":"text","fontSize":26},"encoding":{"x":{"field":"x","type":"quantitative","scale":{"domain":[-0.5,0.5],"nice":false},"axis":null},"y":{"field":"v","type":"quantitative","scale":{"domain":[10,40],"nice":false},"axis":null},"text":{"field":"t"}}},
{"data":{"name":"txt"},"transform":[{"filter":"datum.p=='h'&&datum.k=='n'"}],"mark":{"type":"text","fontSize":20},"encoding":{"x":{"field":"x","type":"quantitative","scale":{"domain":[-0.5,0.5],"nice":false},"axis":null},"y":{"field":"v","type":"quantitative","scale":{"domain":[10,40],"nice":false},"axis":null},"text":{"field":"t"}}},
{"data":{"name":"txt"},"transform":[{"filter":"datum.p=='h'&&datum.k=='V'"}],"mark":{"type":"text","fontSize":23},"encoding":{"x":{"field":"x","type":"quantitative","scale":{"domain":[-0.5,0.5],"nice":false},"axis":null},"y":{"field":"v","type":"quantitative","scale":{"domain":[10,40],"nice":false},"axis":null},"text":{"field":"t"}}},
{"data":{"name":"txt"},"transform":[{"filter":"datum.p=='h'&&datum.k=='rot'"}],"mark":{"type":"text","fontSize":20,"align":"left"},"encoding":{"x":{"field":"x","type":"quantitative","scale":{"domain":[-0.5,0.5],"nice":false},"axis":null},"y":{"field":"v","type":"quantitative","scale":{"domain":[10,40],"nice":false},"axis":null},"text":{"field":"t"}}},
{"data":{"name":"txt"},"transform":[{"filter":"datum.p=='h'&&datum.k=='L'"}],"mark":{"type":"text","fontSize":74,"font":"Liberation Serif","align":"left","baseline":"alphabetic"},"encoding":{"x":{"field":"x","type":"quantitative","scale":{"domain":[-0.5,0.5],"nice":false},"axis":null},"y":{"field":"v","type":"quantitative","scale":{"domain":[10,40],"nice":false},"axis":null},"text":{"field":"t"}}}
]},
{"width":268,"height":356,"resolve":{"scale":{"x":"independent","y":"independent"},"axis":{"x":"independent","y":"independent"}},"layer":[
{"data":{"name":"cd"},"transform":[{"filter":"datum.p=='c'"}],"mark":{"type":"line","interpolate":"step-after","strokeWidth":4,"color":"black"},"encoding":{"x":{"field":"x","type":"quantitative","scale":{"domain":[-0.5,0.5],"nice":false},"axis":{"orient":"bottom","values":[-0.5,-0.3,-0.1,0.1,0.3,0.5],"tickSize":-14,"labelPadding":27,"format":".1f","labelOverlap":false,"labelFlush":false,"title":null}},"y":{"field":"cd","type":"quantitative","scale":{"domain":[0,10],"nice":false},"axis":{"orient":"right","values":[0,1,2,3,4,5,6,7,8,9,10],"tickSize":-12,"labelPadding":16,"labelOverlap":false,"labelFlush":false,"title":null}}}},
{"data":{"name":"vr"},"transform":[{"filter":"datum.p=='c'"}],"mark":{"type":"line","strokeWidth":1.6,"color":"black"},"encoding":{"x":{"field":"x","type":"quantitative","scale":{"domain":[-0.5,0.5],"nice":false},"axis":{"orient":"top","values":[-0.5,-0.3,-0.1,0.1,0.3,0.5],"tickSize":-14,"labels":false,"title":null}},"y":{"field":"v","type":"quantitative","scale":{"domain":[10,40],"nice":false},"axis":{"orient":"left","values":[10,15,20,25,30,35,40],"tickSize":-16,"labelPadding":20,"labelOverlap":false,"labelFlush":false,"title":null}}}},
{"data":{"name":"dot"},"transform":[{"filter":"datum.p=='c'"}],"mark":{"type":"rule","strokeWidth":3.2,"strokeDash":[0.1,6.5],"strokeCap":"round","color":"black"},"encoding":{"x":{"field":"x","type":"quantitative","scale":{"domain":[-0.5,0.5],"nice":false},"axis":{"orient":"bottom","values":[-0.4,-0.2,0,0.2,0.4],"tickSize":-8,"labels":false,"title":null}},"y":{"field":"v1","type":"quantitative","scale":{"domain":[10,40],"nice":false},"axis":{"orient":"left","values":[12.5,17.5,22.5,27.5,32.5,37.5],"tickSize":-11,"labels":false,"title":null}},"y2":{"field":"v2"}}},
{"data":{"name":"txt"},"transform":[{"filter":"datum.p=='c'&&datum.k=='R'"}],"mark":{"type":"text","fontSize":33},"encoding":{"x":{"field":"x","type":"quantitative","scale":{"domain":[-0.5,0.5],"nice":false},"axis":{"orient":"top","values":[-0.4,-0.2,0,0.2,0.4],"tickSize":-8,"labels":false,"title":null}},"y":{"field":"v","type":"quantitative","scale":{"domain":[10,40],"nice":false},"axis":null},"text":{"field":"t"}}},
{"data":{"name":"txt"},"transform":[{"filter":"datum.p=='c'&&datum.k=='CD'"}],"mark":{"type":"text","fontSize":26},"encoding":{"x":{"field":"x","type":"quantitative","scale":{"domain":[-0.5,0.5],"nice":false},"axis":null},"y":{"field":"v","type":"quantitative","scale":{"domain":[10,40],"nice":false},"axis":null},"text":{"field":"t"}}},
{"data":{"name":"txt"},"transform":[{"filter":"datum.p=='c'&&datum.k=='n'"}],"mark":{"type":"text","fontSize":20},"encoding":{"x":{"field":"x","type":"quantitative","scale":{"domain":[-0.5,0.5],"nice":false},"axis":null},"y":{"field":"v","type":"quantitative","scale":{"domain":[10,40],"nice":false},"axis":null},"text":{"field":"t"}}},
{"data":{"name":"txt"},"transform":[{"filter":"datum.p=='c'&&datum.k=='V'"}],"mark":{"type":"text","fontSize":23},"encoding":{"x":{"field":"x","type":"quantitative","scale":{"domain":[-0.5,0.5],"nice":false},"axis":null},"y":{"field":"v","type":"quantitative","scale":{"domain":[10,40],"nice":false},"axis":null},"text":{"field":"t"}}},
{"data":{"name":"txt"},"transform":[{"filter":"datum.p=='c'&&datum.k=='rot'"}],"mark":{"type":"text","fontSize":20,"align":"left"},"encoding":{"x":{"field":"x","type":"quantitative","scale":{"domain":[-0.5,0.5],"nice":false},"axis":null},"y":{"field":"v","type":"quantitative","scale":{"domain":[10,40],"nice":false},"axis":null},"text":{"field":"t"}}},
{"data":{"name":"txt"},"transform":[{"filter":"datum.p=='c'&&datum.k=='L'"}],"mark":{"type":"text","fontSize":74,"font":"Liberation Serif","align":"left","baseline":"alphabetic"},"encoding":{"x":{"field":"x","type":"quantitative","scale":{"domain":[-0.5,0.5],"nice":false},"axis":null},"y":{"field":"v","type":"quantitative","scale":{"domain":[10,40],"nice":false},"axis":null},"text":{"field":"t"}}}
]},
{"width":268,"height":356,"resolve":{"scale":{"x":"independent","y":"independent"},"axis":{"x":"independent","y":"independent"}},"layer":[
{"data":{"name":"cd"},"transform":[{"filter":"datum.p=='f'"}],"mark":{"type":"line","interpolate":"step-after","strokeWidth":4,"color":"black"},"encoding":{"x":{"field":"x","type":"quantitative","scale":{"domain":[-0.5,0.5],"nice":false},"axis":{"orient":"bottom","values":[-0.5,-0.3,-0.1,0.1,0.3,0.5],"tickSize":-14,"labelPadding":27,"format":".1f","labelOverlap":false,"labelFlush":false,"title":"Azimuthal Sampling Offset (deg)","titlePadding":16}},"y":{"field":"cd","type":"quantitative","scale":{"domain":[0,10],"nice":false},"axis":{"orient":"right","values":[0,1,2,3,4,5,6,7,8,9,10],"tickSize":-12,"labelPadding":16,"labelOverlap":false,"labelFlush":false,"title":null}}}},
{"data":{"name":"vr"},"transform":[{"filter":"datum.p=='f'"}],"mark":{"type":"line","strokeWidth":1.6,"color":"black"},"encoding":{"x":{"field":"x","type":"quantitative","scale":{"domain":[-0.5,0.5],"nice":false},"axis":{"orient":"top","values":[-0.5,-0.3,-0.1,0.1,0.3,0.5],"tickSize":-14,"labels":false,"title":null}},"y":{"field":"v","type":"quantitative","scale":{"domain":[10,40],"nice":false},"axis":{"orient":"left","values":[10,15,20,25,30,35,40],"tickSize":-16,"labelPadding":20,"labelOverlap":false,"labelFlush":false,"title":null}}}},
{"data":{"name":"dot"},"transform":[{"filter":"datum.p=='f'"}],"mark":{"type":"rule","strokeWidth":3.2,"strokeDash":[0.1,6.5],"strokeCap":"round","color":"black"},"encoding":{"x":{"field":"x","type":"quantitative","scale":{"domain":[-0.5,0.5],"nice":false},"axis":{"orient":"bottom","values":[-0.4,-0.2,0,0.2,0.4],"tickSize":-8,"labels":false,"title":null}},"y":{"field":"v1","type":"quantitative","scale":{"domain":[10,40],"nice":false},"axis":{"orient":"left","values":[12.5,17.5,22.5,27.5,32.5,37.5],"tickSize":-11,"labels":false,"title":null}},"y2":{"field":"v2"}}},
{"data":{"name":"txt"},"transform":[{"filter":"datum.p=='f'&&datum.k=='R'"}],"mark":{"type":"text","fontSize":33},"encoding":{"x":{"field":"x","type":"quantitative","scale":{"domain":[-0.5,0.5],"nice":false},"axis":{"orient":"top","values":[-0.4,-0.2,0,0.2,0.4],"tickSize":-8,"labels":false,"title":null}},"y":{"field":"v","type":"quantitative","scale":{"domain":[10,40],"nice":false},"axis":null},"text":{"field":"t"}}},
{"data":{"name":"txt"},"transform":[{"filter":"datum.p=='f'&&datum.k=='CD'"}],"mark":{"type":"text","fontSize":26},"encoding":{"x":{"field":"x","type":"quantitative","scale":{"domain":[-0.5,0.5],"nice":false},"axis":null},"y":{"field":"v","type":"quantitative","scale":{"domain":[10,40],"nice":false},"axis":null},"text":{"field":"t"}}},
{"data":{"name":"txt"},"transform":[{"filter":"datum.p=='f'&&datum.k=='n'"}],"mark":{"type":"text","fontSize":20},"encoding":{"x":{"field":"x","type":"quantitative","scale":{"domain":[-0.5,0.5],"nice":false},"axis":null},"y":{"field":"v","type":"quantitative","scale":{"domain":[10,40],"nice":false},"axis":null},"text":{"field":"t"}}},
{"data":{"name":"txt"},"transform":[{"filter":"datum.p=='f'&&datum.k=='V'"}],"mark":{"type":"text","fontSize":23},"encoding":{"x":{"field":"x","type":"quantitative","scale":{"domain":[-0.5,0.5],"nice":false},"axis":null},"y":{"field":"v","type":"quantitative","scale":{"domain":[10,40],"nice":false},"axis":null},"text":{"field":"t"}}},
{"data":{"name":"txt"},"transform":[{"filter":"datum.p=='f'&&datum.k=='rot'"}],"mark":{"type":"text","fontSize":20,"align":"left"},"encoding":{"x":{"field":"x","type":"quantitative","scale":{"domain":[-0.5,0.5],"nice":false},"axis":null},"y":{"field":"v","type":"quantitative","scale":{"domain":[10,40],"nice":false},"axis":null},"text":{"field":"t"}}},
{"data":{"name":"txt"},"transform":[{"filter":"datum.p=='f'&&datum.k=='L'"}],"mark":{"type":"text","fontSize":74,"font":"Liberation Serif","align":"left","baseline":"alphabetic"},"encoding":{"x":{"field":"x","type":"quantitative","scale":{"domain":[-0.5,0.5],"nice":false},"axis":null},"y":{"field":"v","type":"quantitative","scale":{"domain":[10,40],"nice":false},"axis":null},"text":{"field":"t"}}}
]},
{"width":268,"height":356,"resolve":{"scale":{"x":"independent","y":"independent"},"axis":{"x":"independent","y":"independent"}},"layer":[
{"data":{"name":"cd"},"transform":[{"filter":"datum.p=='i'"}],"mark":{"type":"line","interpolate":"step-after","strokeWidth":4,"color":"black"},"encoding":{"x":{"field":"x","type":"quantitative","scale":{"domain":[-0.5,0.5],"nice":false},"axis":{"orient":"bottom","values":[-0.5,-0.3,-0.1,0.1,0.3,0.5],"tickSize":-14,"labelPadding":27,"format":".1f","labelOverlap":false,"labelFlush":false,"title":null}},"y":{"field":"cd","type":"quantitative","scale":{"domain":[0,10],"nice":false},"axis":{"orient":"right","values":[0,1,2,3,4,5,6,7,8,9,10],"tickSize":-12,"labelPadding":16,"labelOverlap":false,"labelFlush":false,"title":null}}}},
{"data":{"name":"vr"},"transform":[{"filter":"datum.p=='i'"}],"mark":{"type":"line","strokeWidth":1.6,"color":"black"},"encoding":{"x":{"field":"x","type":"quantitative","scale":{"domain":[-0.5,0.5],"nice":false},"axis":{"orient":"top","values":[-0.5,-0.3,-0.1,0.1,0.3,0.5],"tickSize":-14,"labels":false,"title":null}},"y":{"field":"v","type":"quantitative","scale":{"domain":[10,40],"nice":false},"axis":{"orient":"left","values":[10,15,20,25,30,35,40],"tickSize":-16,"labelPadding":20,"labelOverlap":false,"labelFlush":false,"title":null}}}},
{"data":{"name":"dot"},"transform":[{"filter":"datum.p=='i'"}],"mark":{"type":"rule","strokeWidth":3.2,"strokeDash":[0.1,6.5],"strokeCap":"round","color":"black"},"encoding":{"x":{"field":"x","type":"quantitative","scale":{"domain":[-0.5,0.5],"nice":false},"axis":{"orient":"bottom","values":[-0.4,-0.2,0,0.2,0.4],"tickSize":-8,"labels":false,"title":null}},"y":{"field":"v1","type":"quantitative","scale":{"domain":[10,40],"nice":false},"axis":{"orient":"left","values":[12.5,17.5,22.5,27.5,32.5,37.5],"tickSize":-11,"labels":false,"title":null}},"y2":{"field":"v2"}}},
{"data":{"name":"txt"},"transform":[{"filter":"datum.p=='i'&&datum.k=='R'"}],"mark":{"type":"text","fontSize":33},"encoding":{"x":{"field":"x","type":"quantitative","scale":{"domain":[-0.5,0.5],"nice":false},"axis":{"orient":"top","values":[-0.4,-0.2,0,0.2,0.4],"tickSize":-8,"labels":false,"title":null}},"y":{"field":"v","type":"quantitative","scale":{"domain":[10,40],"nice":false},"axis":null},"text":{"field":"t"}}},
{"data":{"name":"txt"},"transform":[{"filter":"datum.p=='i'&&datum.k=='CD'"}],"mark":{"type":"text","fontSize":26},"encoding":{"x":{"field":"x","type":"quantitative","scale":{"domain":[-0.5,0.5],"nice":false},"axis":null},"y":{"field":"v","type":"quantitative","scale":{"domain":[10,40],"nice":false},"axis":null},"text":{"field":"t"}}},
{"data":{"name":"txt"},"transform":[{"filter":"datum.p=='i'&&datum.k=='n'"}],"mark":{"type":"text","fontSize":20},"encoding":{"x":{"field":"x","type":"quantitative","scale":{"domain":[-0.5,0.5],"nice":false},"axis":null},"y":{"field":"v","type":"quantitative","scale":{"domain":[10,40],"nice":false},"axis":null},"text":{"field":"t"}}},
{"data":{"name":"txt"},"transform":[{"filter":"datum.p=='i'&&datum.k=='V'"}],"mark":{"type":"text","fontSize":23},"encoding":{"x":{"field":"x","type":"quantitative","scale":{"domain":[-0.5,0.5],"nice":false},"axis":null},"y":{"field":"v","type":"quantitative","scale":{"domain":[10,40],"nice":false},"axis":null},"text":{"field":"t"}}},
{"data":{"name":"txt"},"transform":[{"filter":"datum.p=='i'&&datum.k=='rot'"}],"mark":{"type":"text","fontSize":20,"align":"left"},"encoding":{"x":{"field":"x","type":"quantitative","scale":{"domain":[-0.5,0.5],"nice":false},"axis":null},"y":{"field":"v","type":"quantitative","scale":{"domain":[10,40],"nice":false},"axis":null},"text":{"field":"t"}}},
{"data":{"name":"txt"},"transform":[{"filter":"datum.p=='i'&&datum.k=='L'"}],"mark":{"type":"text","fontSize":74,"font":"Liberation Serif","align":"left","baseline":"alphabetic"},"encoding":{"x":{"field":"x","type":"quantitative","scale":{"domain":[-0.5,0.5],"nice":false},"axis":null},"y":{"field":"v","type":"quantitative","scale":{"domain":[10,40],"nice":false},"axis":null},"text":{"field":"t"}}}
]}
]
}
